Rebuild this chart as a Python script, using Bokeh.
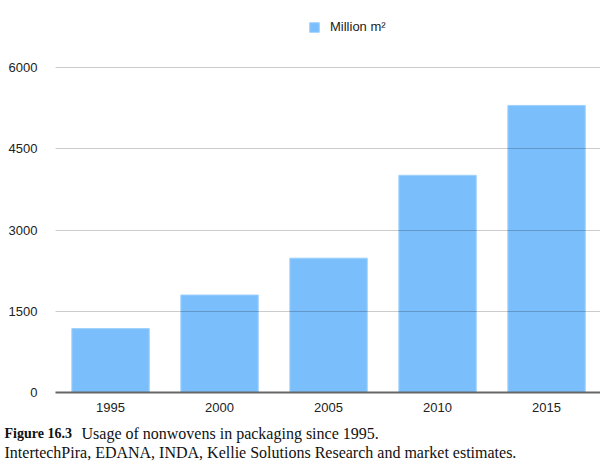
from bokeh.plotting import figure
from bokeh.layouts import column
from bokeh.models import Range1d, FixedTicker, Label, Legend, LegendItem, ColumnDataSource
from bokeh.embed import file_html
from bokeh.resources import INLINE

years = ["1995", "2000", "2005", "2010", "2015"]
values = [1180, 1800, 2480, 4010, 5300]
y_ticks = [0, 1500, 3000, 4500, 6000]
series_name = "Million m\u00b2"
caption_bold = "Figure 16.3"
caption_rest = "Usage of nonwovens in packaging since 1995."
caption_line2 = "IntertechPira, EDANA, INDA, Kellie Solutions Research and market estimates."

xs = list(range(len(years)))
src = ColumnDataSource(dict(x=xs, top=values))

# frame spans from the top of the picture to the zero line; 6000 sits 67px below the top
y_top = 6000 + 67 * 6000 / 325

p = figure(width=600, height=420, output_backend="svg", toolbar_location=None,
           x_range=Range1d(-0.505, 4.495), y_range=Range1d(0, y_top),
           min_border_left=55, min_border_right=0, min_border_top=0, min_border_bottom=28)
p.frame_align = False
p.outline_line_color = None
p.background_fill_color = "white"
p.border_fill_color = "white"

r = p.vbar(x="x", top="top", width=0.71, source=src, fill_color="#7abffc",
           line_color="#9fd0fd", line_width=1)

p.xaxis.ticker = FixedTicker(ticks=xs)
p.xaxis.major_label_overrides = {i: y for i, y in enumerate(years)}
p.yaxis.ticker = FixedTicker(ticks=y_ticks)

for ax in (p.xaxis[0], p.yaxis[0]):
    ax.major_tick_line_color = None
    ax.minor_tick_line_color = None
    ax.major_label_text_font = "Liberation Sans"
    ax.major_label_text_font_size = "13px"
    ax.major_label_text_color = "#222222"
p.yaxis.axis_line_color = None
p.yaxis.major_label_standoff = 12
p.xaxis.axis_line_color = "#666666"
p.xaxis.axis_line_width = 2
p.xaxis.major_label_standoff = 4

p.xgrid.grid_line_color = None
p.ygrid.ticker = FixedTicker(ticks=y_ticks[1:])
p.ygrid.grid_line_color = "#000000"
p.ygrid.grid_line_alpha = 0.2
p.ygrid.level = "overlay"

legend = Legend(items=[LegendItem(label=series_name, renderers=[r])],
                location=(253, 358), orientation="horizontal",
                border_line_color=None, background_fill_alpha=0,
                glyph_width=12, glyph_height=12, label_height=12,
                padding=0, margin=0, spacing=0, label_standoff=10,
                label_text_font="Liberation Sans", label_text_font_size="13px",
                label_text_color="#222222")
p.add_layout(legend)

# caption strip below the chart
cap = figure(width=600, height=47, output_backend="svg", toolbar_location=None,
             x_range=Range1d(0, 1), y_range=Range1d(0, 1),
             x_axis_location=None, y_axis_location=None,
             min_border_left=0, min_border_right=0, min_border_top=0, min_border_bottom=0)
cap.frame_align = False
cap.outline_line_color = None
cap.grid.visible = False
cap_font = "Liberation Serif"
cap.add_layout(Label(x=4, y=34, x_units="screen", y_units="screen", text=caption_bold,
                     text_font=cap_font, text_font_size="14px", text_font_style="bold",
                     text_color="#111111", text_baseline="alphabetic"))
cap.add_layout(Label(x=81, y=34, x_units="screen", y_units="screen", text=caption_rest,
                     text_font=cap_font, text_font_size="16px",
                     text_color="#111111", text_baseline="alphabetic"))
cap.add_layout(Label(x=4, y=15, x_units="screen", y_units="screen", text=caption_line2,
                     text_font=cap_font, text_font_size="16px",
                     text_color="#111111", text_baseline="alphabetic"))

layout = column(p, cap, spacing=0)
open("out.html", "w").write(file_html(layout, INLINE))
